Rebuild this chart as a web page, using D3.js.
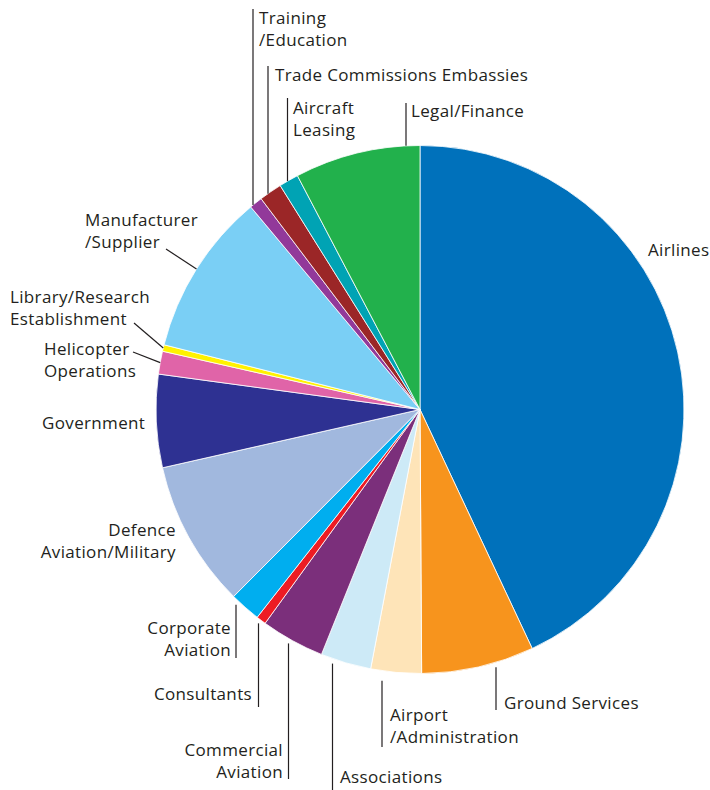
<!DOCTYPE html>
<html>
<head>
<meta charset="utf-8">
<script src="https://cdn.jsdelivr.net/npm/d3@7"></script>
<style>
    html, body { margin: 0; padding: 0; background: #fff; }
    svg text { font-family: "Open Sans", "Noto Sans", sans-serif; font-size: 17px; letter-spacing: 0.35px; fill: #231f20; }
</style>
</head>
<body>
<div id="chart"></div>
<script>
// slices, clockwise from 12 o'clock (share of total, %)
const categories = [
    "Airlines", "Ground Services", "Airport/Administration", "Associations",
    "Commercial Aviation", "Consultants", "Corporate Aviation", "Defence Aviation/Military",
    "Government", "Helicopter Operations", "Library/Research Establishment",
    "Manufacturer/Supplier", "Training/Education", "Trade Commissions Embassies",
    "Aircraft Leasing", "Legal/Finance"
];
const shares = [43.1, 6.9, 3.1, 3.1, 3.9, 0.6, 1.9, 9.0, 5.7, 1.4, 0.4, 10.0, 0.8, 1.4, 1.2, 7.7];
const sliceColors = [
    "#0071bb", "#f7941d", "#fee4b8", "#cdeaf7", "#7b2f7b", "#ed1c24", "#00aeef", "#a1b8de",
    "#2e3192", "#e064a8", "#fff200", "#7acff5", "#92399a", "#9b2627", "#00a3b4", "#22b14c"
];

const width = 710, height = 790;
const cx = 420, cy = 409.5, radius = 264;

// label placement: text lines, anchor point, and leader style
// vert: vertical leader at x=lx running from the pie edge (minus gap) to y=ly
// diag: straight leader from (lx, ly) to the pie edge at the slice's mid angle
const labelLayout = {
    "Airlines": { lines: ["Airlines"], x: 648, y: 256, anchor: "start" },
    "Ground Services": { lines: ["Ground Services"], x: 504, y: 709, anchor: "start", vert: { lx: 496, ly: 710, gap: 5 } },
    "Airport/Administration": { lines: ["Airport", "/Administration"], x: 390, y: 721, anchor: "start", vert: { lx: 382, ly: 747, gap: 10 } },
    "Associations": { lines: ["Associations"], x: 340, y: 783, anchor: "start", vert: { lx: 332.5, ly: 790, gap: 5 } },
    "Commercial Aviation": { lines: ["Commercial", "Aviation"], x: 283, y: 756, anchor: "end", vert: { lx: 288.5, ly: 779, gap: 5 } },
    "Consultants": { lines: ["Consultants"], x: 252, y: 700, anchor: "end", vert: { lx: 258.5, ly: 707, gap: 5 } },
    "Corporate Aviation": { lines: ["Corporate", "Aviation"], x: 231, y: 634, anchor: "end", vert: { lx: 236, ly: 658, gap: 6 } },
    "Defence Aviation/Military": { lines: ["Defence", "Aviation/Military"], x: 176, y: 536, anchor: "end" },
    "Government": { lines: ["Government"], x: 42, y: 429, anchor: "start" },
    "Helicopter Operations": { lines: ["Helicopter", "Operations"], x: 44, y: 355, anchor: "start", diag: { lx: 133, ly: 352 } },
    "Library/Research Establishment": { lines: ["Library/Research", "Establishment"], x: 10, y: 303, anchor: "start", diag: { lx: 134, ly: 323 } },
    "Manufacturer/Supplier": { lines: ["Manufacturer", "/Supplier"], x: 85, y: 226, anchor: "start", diag: { lx: 166, ly: 249 } },
    "Training/Education": { lines: ["Training", "/Education"], x: 259, y: 24, anchor: "start", vert: { lx: 253, ly: 9, gap: 0 } },
    "Trade Commissions Embassies": { lines: ["Trade Commissions Embassies"], x: 275, y: 81, anchor: "start", vert: { lx: 268, ly: 66, gap: 0 } },
    "Aircraft Leasing": { lines: ["Aircraft", "Leasing"], x: 293, y: 114, anchor: "start", vert: { lx: 287.5, ly: 98, gap: 0 } },
    "Legal/Finance": { lines: ["Legal/Finance"], x: 411, y: 117, anchor: "start", vert: { lx: 406, ly: 103, gap: 0 } }
};

const data = categories.map((name, i) => ({ name: name, value: shares[i], color: sliceColors[i] }));

const svg = d3.select("#chart")
    .append("svg")
    .attr("width", width)
    .attr("height", height);

const pie = d3.pie()
    .sort(null)
    .value(d => d.value);

const arc = d3.arc()
    .innerRadius(0)
    .outerRadius(radius);

const arcs = pie(data);

const g = svg.append("g")
    .attr("transform", `translate(${cx}, ${cy})`);

// slices
g.selectAll(".slice")
    .data(arcs)
    .enter()
    .append("path")
    .attr("class", "slice")
    .attr("d", arc)
    .attr("fill", d => d.data.color)
    .attr("stroke", "#fff")
    .attr("stroke-width", 0.8)
    .attr("stroke-linejoin", "round");

// leader lines
const leaders = svg.append("g").attr("class", "leaders");
for (const a of arcs) {
    const lay = labelLayout[a.data.name];
    if (lay.vert) {
        const dx = lay.vert.lx - cx;
        const dy = Math.sqrt(radius * radius - dx * dx);
        const edgeY = lay.vert.ly < cy ? cy - dy - lay.vert.gap : cy + dy + lay.vert.gap;
        leaders.append("line")
            .attr("x1", lay.vert.lx).attr("y1", edgeY)
            .attr("x2", lay.vert.lx).attr("y2", lay.vert.ly)
            .attr("stroke", "#231f20")
            .attr("stroke-width", 1.2);
    } else if (lay.diag) {
        const mid = (a.startAngle + a.endAngle) / 2;
        leaders.append("line")
            .attr("x1", lay.diag.lx).attr("y1", lay.diag.ly)
            .attr("x2", cx + radius * Math.sin(mid))
            .attr("y2", cy - radius * Math.cos(mid))
            .attr("stroke", "#231f20")
            .attr("stroke-width", 1.2);
    }
}

// labels
const labels = svg.append("g").attr("class", "labels");
for (const a of arcs) {
    const lay = labelLayout[a.data.name];
    const t = labels.append("text")
        .attr("x", lay.x)
        .attr("y", lay.y)
        .attr("text-anchor", lay.anchor);
    lay.lines.forEach((line, i) => {
        t.append("tspan")
            .attr("x", lay.x)
            .attr("dy", i === 0 ? 0 : 22)
            .text(line);
    });
}
</script>
</body>
</html>
